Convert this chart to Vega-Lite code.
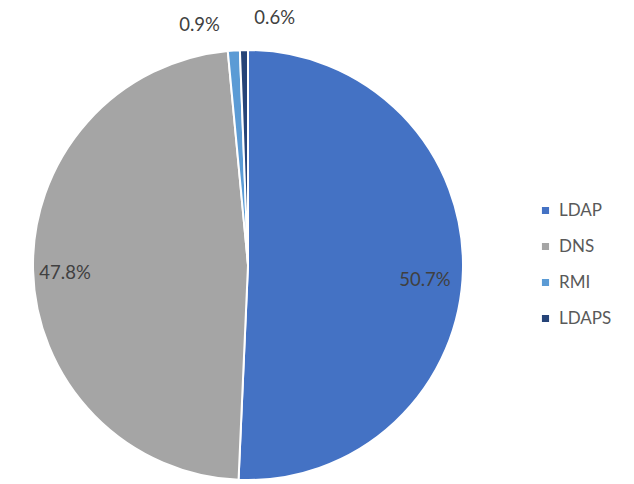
{
  "$schema": "https://vega.github.io/schema/vega-lite/v6.json",
  "autosize": {"type": "none"},
  "padding": {"left": 33, "top": 50, "right": 171, "bottom": 4},
  "width": 430,
  "height": 430,
  "background": "white",
  "config": {"view": {"stroke": null}, "font": "Lato"},
  "data": {"values": [
    {"protocol": "LDAP", "share": 50.7, "rank": 1, "label": "50.7%"},
    {"protocol": "DNS", "share": 47.8, "rank": 2, "label": "47.8%"},
    {"protocol": "RMI", "share": 0.9, "rank": 3, "label": "0.9%"},
    {"protocol": "LDAPS", "share": 0.6, "rank": 4, "label": "0.6%"}
  ]},
  "encoding": {
    "theta": {"field": "share", "type": "quantitative", "stack": true},
    "order": {"field": "rank", "type": "quantitative"}
  },
  "layer": [
    {
      "mark": {"type": "arc", "outerRadius": 215, "stroke": "white", "strokeWidth": 2},
      "encoding": {
        "color": {
          "field": "protocol", "type": "nominal",
          "scale": {"domain": ["LDAP", "DNS", "RMI", "LDAPS"], "range": ["#4472C4", "#A5A5A5", "#5B9BD5", "#264478"]},
          "legend": {
            "title": null, "orient": "none", "legendX": 504, "legendY": 152,
            "symbolType": "square", "symbolSize": 75, "labelFontSize": 17,
            "labelColor": "#595959", "rowPadding": 18, "labelOffset": 5, "labelFont": "Lato"
          }
        }
      }
    },
    {
      "mark": {"type": "text", "radius": 177, "fontSize": 18.5, "color": "#404040", "dy": 11},
      "encoding": {"text": {"condition": {"test": "datum.protocol == 'LDAP'", "field": "label"}, "value": ""}}
    },
    {
      "mark": {"type": "text", "radius": 183, "fontSize": 18.5, "color": "#404040", "dy": 3},
      "encoding": {"text": {"condition": {"test": "datum.protocol == 'DNS'", "field": "label"}, "value": ""}}
    },
    {
      "mark": {"type": "text", "radius": 245, "fontSize": 18.5, "color": "#404040", "align": "right", "dx": -12, "dy": 4},
      "encoding": {"text": {"condition": {"test": "datum.protocol == 'RMI'", "field": "label"}, "value": ""}}
    },
    {
      "mark": {"type": "text", "radius": 248, "fontSize": 18.5, "color": "#404040", "align": "left", "dx": 11, "dy": 1},
      "encoding": {"text": {"condition": {"test": "datum.protocol == 'LDAPS'", "field": "label"}, "value": ""}}
    }
  ]
}
